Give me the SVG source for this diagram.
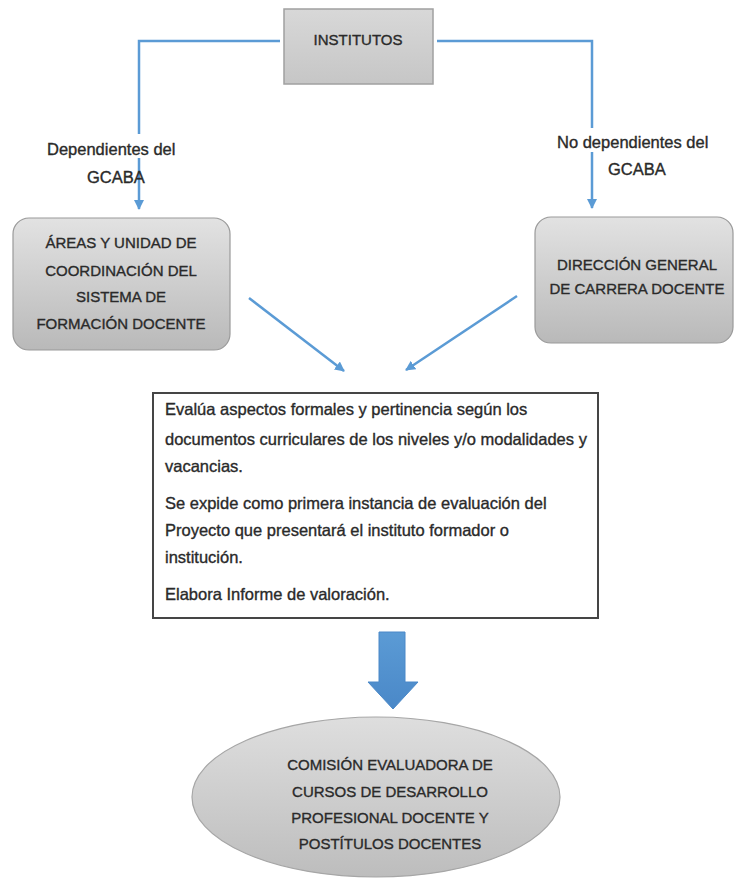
<svg xmlns="http://www.w3.org/2000/svg" width="736" height="879" viewBox="0 0 736 879">
<style>
text{font-family:"Liberation Sans",Arial,sans-serif;fill:#2a2a2a;stroke:#2a2a2a;stroke-width:0.35}
.cap{font-size:15px;text-anchor:middle}
.lbl{font-size:16.5px}
.body{font-size:16.5px}
.conn{fill:none;stroke:#5b9bd5;stroke-width:2.5}
</style>
<defs>
<linearGradient id="gbox" x1="0" y1="0" x2="0" y2="1">
<stop offset="0" stop-color="#e2e2e2"/><stop offset="1" stop-color="#b9b9b9"/>
</linearGradient>
<linearGradient id="gtop" x1="0" y1="0" x2="0" y2="1">
<stop offset="0" stop-color="#d8d8d8"/><stop offset="1" stop-color="#c6c6c6"/>
</linearGradient>
<linearGradient id="gell" x1="0" y1="0" x2="0" y2="1">
<stop offset="0" stop-color="#dedede"/><stop offset="1" stop-color="#bdbdbd"/>
</linearGradient>
<linearGradient id="garr" x1="0" y1="0" x2="0" y2="1">
<stop offset="0" stop-color="#5b9bd5"/><stop offset="1" stop-color="#4a88c8"/>
</linearGradient>
<marker id="ah" viewBox="0 0 10 10" refX="9" refY="5" markerWidth="4" markerHeight="4" orient="auto" markerUnits="strokeWidth">
<path d="M0,0 L10,5 L0,10 Z" fill="#5b9bd5"/>
</marker>
</defs>

<g id="connectors">
<path class="conn" d="M280,41 H139 V209" marker-end="url(#ah)"/>
<path class="conn" d="M437,41 H592 V208" marker-end="url(#ah)"/>
<path class="conn" d="M249,298 L344,371" marker-end="url(#ah)"/>
<path class="conn" d="M517,296 L406,370" marker-end="url(#ah)"/>
<path d="M379,632 H405 V682 H418 L393,709 L368,682 H379 Z" fill="url(#garr)" stroke="#4a88c8" stroke-width="1"/>
</g>

<g id="label-dependientes">
<rect x="45" y="134" width="136" height="24" fill="#fff"/>
<text class="lbl" x="47" y="155">Dependientes del</text>
<text class="lbl" x="87" y="183">GCABA</text>
</g>
<g id="label-no-dependientes">
<rect x="555" y="128" width="162" height="24" fill="#fff"/>
<text class="lbl" x="557" y="148">No dependientes del</text>
<text class="lbl" x="608" y="175">GCABA</text>
</g>

<g id="institutos">
<rect x="284" y="9" width="149" height="75" fill="url(#gtop)" stroke="#a0a0a0" stroke-width="1.5"/>
<text class="cap" x="358" y="45">INSTITUTOS</text>
</g>

<g id="areas">
<rect x="13" y="218" width="217" height="132" rx="16" fill="url(#gbox)" stroke="#9a9a9a" stroke-width="1.2"/>
<text class="cap" x="121" y="248">ÁREAS Y UNIDAD DE</text>
<text class="cap" x="121" y="276">COORDINACIÓN DEL</text>
<text class="cap" x="121" y="302">SISTEMA DE</text>
<text class="cap" x="121" y="329">FORMACIÓN DOCENTE</text>
</g>

<g id="direccion">
<rect x="535" y="217" width="198" height="126" rx="16" fill="url(#gbox)" stroke="#9a9a9a" stroke-width="1.2"/>
<text class="cap" x="637" y="270">DIRECCIÓN GENERAL</text>
<text class="cap" x="637" y="294">DE CARRERA DOCENTE</text>
</g>

<g id="evalua">
<rect x="153" y="393" width="445" height="225" fill="#fff" stroke="#454545" stroke-width="2"/>
<text class="body" x="165" y="415">Evalúa aspectos formales y pertinencia según los</text>
<text class="body" x="165" y="445">documentos curriculares de los niveles y/o modalidades y</text>
<text class="body" x="165" y="472">vacancias.</text>
<text class="body" x="165" y="509">Se expide como primera instancia de evaluación del</text>
<text class="body" x="165" y="536">Proyecto que presentará el instituto formador o</text>
<text class="body" x="165" y="563">institución.</text>
<text class="body" x="165" y="600">Elabora Informe de valoración.</text>
</g>

<g id="comision">
<ellipse cx="376" cy="797" rx="184" ry="80" fill="url(#gell)" stroke="#a6a6a6" stroke-width="1.2"/>
<text class="cap" x="390" y="770">COMISIÓN EVALUADORA DE</text>
<text class="cap" x="390" y="797">CURSOS DE DESARROLLO</text>
<text class="cap" x="390" y="823">PROFESIONAL DOCENTE Y</text>
<text class="cap" x="390" y="849">POSTÍTULOS DOCENTES</text>
</g>
</svg>
